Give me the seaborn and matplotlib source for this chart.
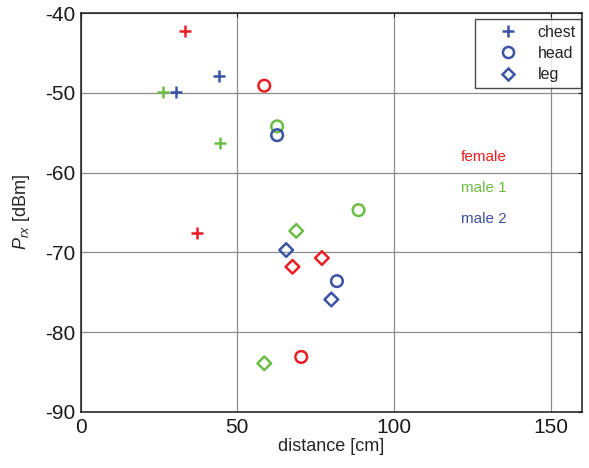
import matplotlib
matplotlib.use("Agg")
import matplotlib.pyplot as plt
import seaborn as sns
import pandas as pd
from matplotlib.lines import Line2D

# Data
subjects = ["female", "female", "female", "female", "female", "female",
            "male 1", "male 1", "male 1", "male 1", "male 1", "male 1",
            "male 2", "male 2", "male 2", "male 2", "male 2", "male 2"]
parts = ["chest", "chest", "head", "head", "leg", "leg",
         "chest", "chest", "head", "head", "leg", "leg",
         "chest", "chest", "head", "head", "leg", "leg"]
distance = [33.4, 37.2, 58.6, 70.4, 67.6, 77.0,
            26.3, 44.5, 62.7, 88.7, 68.8, 58.6,
            30.4, 44.3, 62.7, 81.8, 65.6, 80.0]
prx = [-42.3, -67.6, -49.1, -83.1, -71.8, -70.7,
       -49.9, -56.3, -54.2, -64.7, -67.3, -83.9,
       -49.9, -47.9, -55.3, -73.6, -69.7, -75.9]
subject_names = ["female", "male 1", "male 2"]
part_names = ["chest", "head", "leg"]

colors = {"female": "#ee1d23", "male 1": "#6cbd45", "male 2": "#3a53a4"}
markers = {"chest": "+", "head": "o", "leg": "D"}
sizes = {"chest": 85, "head": 70, "leg": 48}

df = pd.DataFrame({"subject": subjects, "part": parts,
                   "distance": distance, "prx": prx})

sns.set_style("white")
plt.rcParams["font.family"] = ["Liberation Sans", "DejaVu Sans"]
plt.rcParams["axes.unicode_minus"] = False
plt.rcParams["mathtext.fontset"] = "custom"
plt.rcParams["mathtext.it"] = "Liberation Sans:italic"
plt.rcParams["mathtext.rm"] = "Liberation Sans"

fig = plt.figure(figsize=(5.89, 4.68), dpi=100)
ax = fig.add_axes([0.137, 0.1197, 0.851, 0.8523])

for s in subject_names:
    for p in part_names:
        sub = df[(df.subject == s) & (df.part == p)]
        sns.scatterplot(data=sub, x="distance", y="prx", ax=ax,
                        marker=markers[p], color=colors[s], s=sizes[p],
                        linewidth=1.8, legend=False, zorder=3)
        coll = ax.collections[-1]
        if p != "chest":
            coll.set_facecolor("none")
        coll.set_edgecolor(colors[s])

ax.set_xlim(0, 160)
ax.set_ylim(-90, -40)
ax.set_xticks([0, 50, 100, 150])
ax.set_yticks([-90, -80, -70, -60, -50, -40])
ax.grid(True, color="#8c8c8c", linewidth=0.9, linestyle="-")
ax.set_axisbelow(True)
for sp in ax.spines.values():
    sp.set_color("#1a1a1a")
    sp.set_linewidth(1.1)
ax.tick_params(direction="in", length=3, width=0.8, labelsize=15,
               top=True, right=True, colors="#1a1a1a", pad=4)
ax.set_xlabel("distance [cm]", fontsize=13, labelpad=1)
ax.set_ylabel(r"$P_{rx}$ [dBm]", fontsize=13, labelpad=9)

for s, y in zip(subject_names, [-58.0, -61.9, -65.8]):
    ax.text(128.6, y, s, color=colors[s], fontsize=11, ha="center", va="center")

handles = [Line2D([], [], linestyle="none", marker=markers[p],
                  markersize=8 if p != "leg" else 6.5,
                  markeredgewidth=1.8, markerfacecolor="none",
                  markeredgecolor=colors["male 2"]) for p in part_names]
leg = ax.legend(handles, part_names, loc="upper right",
                bbox_to_anchor=(0.999, 0.985), borderaxespad=0,
                frameon=True, fancybox=False, fontsize=11.5,
                handlelength=3.4, handletextpad=0.15, borderpad=0.35,
                labelspacing=0.4)
leg.get_frame().set_edgecolor("#1a1a1a")
leg.get_frame().set_linewidth(1.0)

fig.savefig("out.png", dpi=100)
